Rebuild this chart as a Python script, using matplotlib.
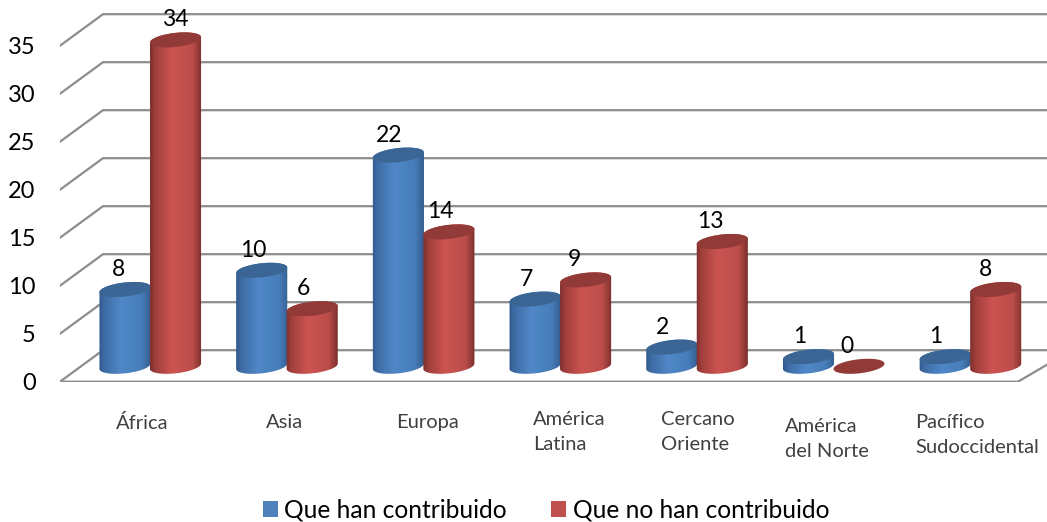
import numpy as np
import matplotlib
matplotlib.use("Agg")
import matplotlib.pyplot as plt
from matplotlib.patches import Polygon, Patch
from matplotlib.colors import LinearSegmentedColormap
from matplotlib.transforms import ScaledTranslation

categories = ["África", "Asia", "Europa", "América\nLatina", "Cercano\nOriente", "América\ndel Norte", "Pacífico\nSudoccidental"]
contribuido = [8, 10, 22, 7, 2, 1, 1]
no_contribuido = [34, 6, 14, 9, 13, 0, 8]
series_names = ["Que han contribuido", "Que no han contribuido"]
y_ticks = [0, 5, 10, 15, 20, 25, 30, 35]

W, H = 1047, 522
PX_X, PX_Y = 136.7, 9.6
Y0_PX, LEFT_PX = 381.7, 60
FONT = "Lato"
plt.rcParams["font.family"] = [FONT, "DejaVu Sans"]

fig = plt.figure(figsize=(W / 100, H / 100), dpi=100, facecolor="white")
ax = fig.add_axes([LEFT_PX / W, (H - Y0_PX) / H, 1 - LEFT_PX / W, Y0_PX / H])
ax.set_facecolor("none")
xlim = ((LEFT_PX - 150) / PX_X, (W - 150) / PX_X)
ylim = (0, Y0_PX / PX_Y)

for s in ax.spines.values():
    s.set_visible(False)

# depth offsets of the 3D box, expressed in data units
depth_x = 43 / PX_X
depth_y = 31.5 / PX_Y
x_front = xlim[0]
x_end = xlim[1] + 1
GRID = "#8c8c8c"
for v in y_ticks:
    ax.plot([x_front, x_front + depth_x, x_end], [v, v + depth_y, v + depth_y],
            color=GRID, lw=1.6, zorder=1, solid_joinstyle="miter")
# floor
fr = (1018 - 150) / PX_X
ax.plot([x_front, fr, fr + depth_x], [0, 0, depth_y * 0.8], color=GRID, lw=1.6, zorder=1)

# cylinders
A, B, ROT = 25.7, 7.0, np.radians(6.5)
BASE = (Y0_PX - 366.3) / PX_Y


def ell(cx, cy, t):
    xp = A * np.cos(t) * np.cos(ROT) - B * np.sin(t) * np.sin(ROT)
    yp = A * np.cos(t) * np.sin(ROT) + B * np.sin(t) * np.cos(ROT)
    return cx + xp / PX_X, cy + yp / PX_Y


cmap_blue = LinearSegmentedColormap.from_list("b", [(0, "#30598a"), (0.1, "#3d6ca4"), (0.42, "#5087c8"),
                                                    (0.82, "#467db9"), (0.95, "#3a669c"), (1, "#345c8c")])
cmap_red = LinearSegmentedColormap.from_list("r", [(0, "#7d2f2d"), (0.1, "#a03f3c"), (0.42, "#cc5451"),
                                                   (0.82, "#bb4d4a"), (0.95, "#8e3835"), (1, "#7a2e2c")])
TOPS = ["#3a6594", "#913a38"]
CMAPS = [cmap_blue, cmap_red]
grad = np.linspace(0, 1, 128).reshape(1, -1)
t0 = np.arctan2(-B * np.sin(ROT), A * np.cos(ROT))
lower = np.linspace(np.pi + t0, 2 * np.pi + t0, 50)
upper = np.linspace(t0, np.pi + t0, 50)
full = np.linspace(0, 2 * np.pi, 100)
SHIFT = [-25, 25.5]
z = 3
for k, vals in enumerate([contribuido, no_contribuido]):
    for i, v in enumerate(vals):
        cx = i + SHIFT[k] / PX_X
        yb = BASE
        yt = BASE + v
        xb, ybb = ell(cx, yb, lower)
        xt, ytt = ell(cx, yt, upper)
        if v > 0:
            poly = Polygon(np.r_[np.c_[xb, ybb], np.c_[xt, ytt]], closed=True, transform=ax.transData,
                           fc="none", ec="none")
            ax.add_patch(poly)
            im = ax.imshow(grad, cmap=CMAPS[k], aspect="auto", vmin=0, vmax=1,
                           extent=[cx - 26 / PX_X, cx + 26 / PX_X, yb - 1, yt + 1],
                           interpolation="bilinear", zorder=z + k * 10 + i * 0.1)
            im.set_clip_path(poly)
        xe, ye = ell(cx, yt, full)
        ax.fill(xe, ye, color=TOPS[k], lw=0, zorder=z + k * 10 + i * 0.1 + 0.01)

# value labels
label_dx = [[-7, -8, -9, -9, -9, -9, -9], [0, -9, -9, -11, -12, -12, -10]]
for k, vals in enumerate([contribuido, no_contribuido]):
    for i, v in enumerate(vals):
        cx = i + SHIFT[k] / PX_X
        ax.annotate(str(v), (cx, BASE + v), xytext=(label_dx[k][i], 20), textcoords="offset pixels",
                    ha="center", va="center", fontsize=16.5, color="black", zorder=40)

# axes
ax.set_yticks(y_ticks)
ax.set_xticks(range(len(categories)))
ax.set_xticklabels(categories)
ax.tick_params(axis="y", length=0, pad=17.5, labelsize=17, labelcolor="black")
ax.tick_params(axis="x", length=0, pad=0, labelsize=14.5, labelcolor="#404040")
ax.set_xlim(*xlim)
ax.set_ylim(*ylim)

# per-category label placement, in pixels: left edge, first-line top
label_left = [116, 266, 396, 533, 661, 785, 915]
label_top = [414, 414, 414, 411, 411, 418, 414]
for i, lab in enumerate(ax.get_xticklabels()):
    lab.set_ha("left")
    lab.set_va("top")
    lab.set_multialignment("left")
    lab.set_linespacing(1.55)
    base_px = 150 + PX_X * i
    off = ScaledTranslation((label_left[i] - base_px) / 100, -(label_top[i] - Y0_PX) / 100, fig.dpi_scale_trans)
    lab.set_transform(ax.get_xaxis_transform() + off)

handles = [Patch(fc="#4f81bd", ec="none", label=series_names[0]),
           Patch(fc="#c0504d", ec="none", label=series_names[1])]
ax.legend(handles=handles, ncol=2, loc="center", bbox_to_anchor=(546 / W, 1 - 510 / H),
          bbox_transform=fig.transFigure, frameon=False, fontsize=17.75, handlelength=0.61,
          handleheight=0.61, handletextpad=0.27, columnspacing=1.8, borderpad=0, borderaxespad=0,
          labelcolor="black")

fig.savefig("out.png", dpi=100)
